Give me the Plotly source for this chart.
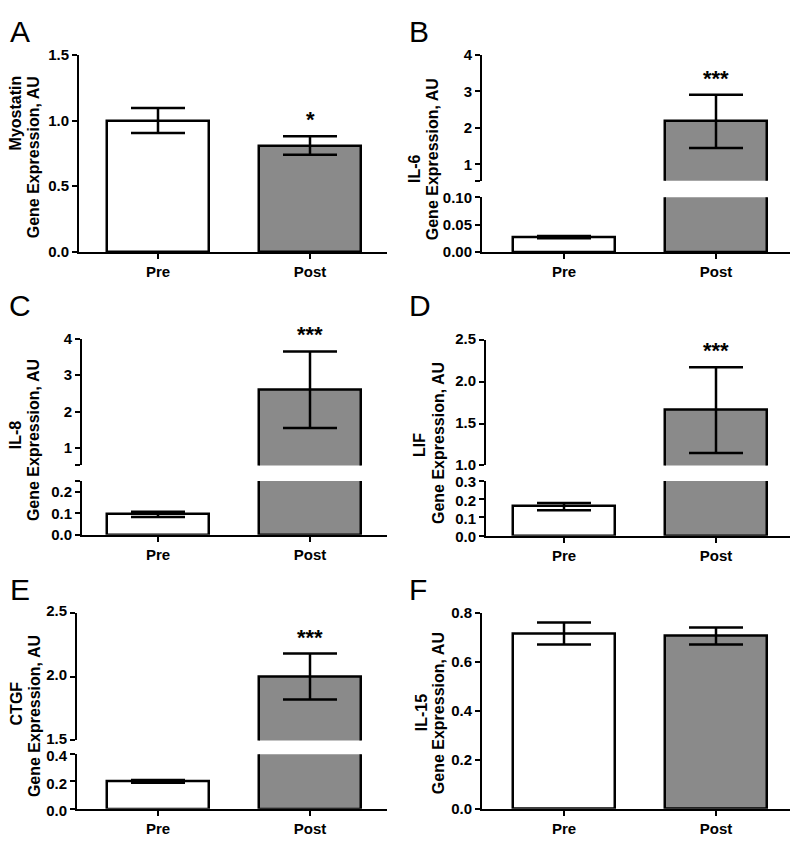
import plotly.graph_objects as go

# ---- data ----
GROUPS = ["Pre", "Post"]
GENES = ["Myostatin", "IL-6", "IL-8", "LIF", "CTGF", "IL-15"]
LETTERS = ["A", "B", "C", "D", "E", "F"]
STARS = ["*", "***", "***", "***", "***", ""]
UNIT_LABEL = "Gene Expression, AU"

MYOSTATIN_MEAN = [1.00, 0.81]
MYOSTATIN_SEM = [0.095, 0.07]
IL6_MEAN = [0.027, 2.18]
IL6_SEM = [0.002, 0.73]
IL8_MEAN = [0.095, 2.60]
IL8_SEM = [0.012, 1.05]
LIF_MEAN = [0.16, 1.66]
LIF_SEM = [0.02, 0.51]
CTGF_MEAN = [0.20, 2.00]
CTGF_SEM = [0.01, 0.18]
IL15_MEAN = [0.715, 0.705]
IL15_SEM = [0.045, 0.035]

# y-axis segments (broken axes): tick values, bottom segment first
MYOSTATIN_TICKS = [0, 0.5, 1.0, 1.5]
IL6_TICKS_LOW = [0, 0.05, 0.10]
IL6_TICKS_HIGH = [1, 2, 3, 4]
IL8_TICKS_LOW = [0, 0.1, 0.2]
IL8_TICKS_HIGH = [1, 2, 3, 4]
LIF_TICKS_LOW = [0, 0.1, 0.2, 0.3]
LIF_TICKS_HIGH = [1.0, 1.5, 2.0, 2.5]
CTGF_TICKS_LOW = [0, 0.2, 0.4]
CTGF_TICKS_HIGH = [1.5, 2.0, 2.5]
IL15_TICKS = [0, 0.2, 0.4, 0.6, 0.8]

W, H = 800, 849
FONT = "Liberation Sans, Arial, Helvetica, sans-serif"
POST_GRAY = "#8a8a8a"


def fx(p):
    return p / W


def fy(p):
    return 1 - p / H


# layout in page pixels: axis x span, centre of Pre bar,
# segments (top, bottom, range, ticks, fmt, label shift), letter pos, title line pos
PANELS = [
    dict(mean=MYOSTATIN_MEAN, sem=MYOSTATIN_SEM, x=(79, 387), c0=158,
         segs=[(45, 247, [0, 1.5], MYOSTATIN_TICKS, "{:.1f}", 0)],
         letter=(8, 21), title=((15, 105), (33, 150))),
    dict(mean=IL6_MEAN, sem=IL6_SEM, x=(482, 790), c0=564,
         segs=[(191, 247, [0, 0.10], IL6_TICKS_LOW, "{:.2f}", 0),
               (45, 174, [0.55, 4], IL6_TICKS_HIGH, "{:.0f}", 0)],
         letter=(407, 21), title=((415, 162), (432, 152))),
    dict(mean=IL8_MEAN, sem=IL8_SEM, x=(82, 387), c0=158,
         segs=[(482, 537, [0, 0.25], IL8_TICKS_LOW, "{:.1f}", 0),
               (336, 466, [0.52, 4], IL8_TICKS_HIGH, "{:.0f}", 0)],
         letter=(7, 302), title=((15, 435), (33, 440))),
    dict(mean=LIF_MEAN, sem=LIF_SEM, x=(486, 790), c0=564,
         segs=[(482, 538, [0, 0.3], LIF_TICKS_LOW, "{:.1f}", 1),
               (337, 466, [1.0, 2.5], LIF_TICKS_HIGH, "{:.1f}", -1)],
         letter=(407, 302), title=((420, 445), (438, 443))),
    dict(mean=CTGF_MEAN, sem=CTGF_SEM, x=(77, 387), c0=158,
         segs=[(762, 818, [0, 0.4], CTGF_TICKS_LOW, "{:.1f}", 2),
               (617, 748, [1.5, 2.5], CTGF_TICKS_HIGH, "{:.1f}", -2)],
         letter=(8, 593), title=((16, 710), (34, 723))),
    dict(mean=IL15_MEAN, sem=IL15_SEM, x=(482, 790), c0=564,
         segs=[(617, 818, [0, 0.8], IL15_TICKS, "{:.1f}", 0)],
         letter=(407, 593), title=((421, 720), (438, 720))),
]

SPACING = 152  # pixels between Pre and Post centres
TICKFONT = dict(family=FONT, size=15, color="black", weight="bold")


def _key(kind, n):
    return f"{kind}axis" if n == 1 else f"{kind}axis{n}"


def _ref(kind, n):
    return kind if n == 1 else f"{kind}{n}"


fig = go.Figure()
layout = {}
annotations = []
xn = yn = 0

for i, p in enumerate(PANELS):
    xn += 1
    x0, x1 = p["x"]
    lo = -(p["c0"] - x0) / SPACING
    hi = 1 + (x1 - (p["c0"] + SPACING)) / SPACING
    first_y = yn + 1
    layout[_key("x", xn)] = dict(
        domain=[fx(x0), fx(x1)], range=[lo, hi], anchor=_ref("y", first_y),
        type="category", showline=True, linewidth=2, linecolor="black",
        ticks="outside", ticklen=5, tickwidth=2, tickcolor="black",
        tickfont=TICKFONT, showgrid=False, zeroline=False, fixedrange=True,
    )
    top_ref = None
    for top, bot, rng, ticks, fmt, shift in p["segs"]:
        yn += 1
        tv = list(ticks)
        tt = [fmt.format(t) for t in ticks]
        for end in rng:
            if all(abs(end - t) > 1e-9 for t in tv):
                tv.append(end)
                tt.append("")
        layout[_key("y", yn)] = dict(
            domain=[fy(bot), fy(top)], range=rng, anchor=_ref("x", xn),
            tickvals=tv, ticktext=tt, showline=True, linewidth=2, linecolor="black",
            ticks="outside", ticklen=5, tickwidth=2, tickcolor="black",
            tickfont=TICKFONT, ticklabelshift=shift,
            showgrid=False, zeroline=False, fixedrange=True,
        )
        fig.add_trace(go.Bar(
            x=GROUPS, y=p["mean"], width=0.67,
            marker=dict(color=["white", POST_GRAY], line=dict(color="black", width=2.5)),
            error_y=dict(type="data", array=p["sem"], visible=True,
                         color="black", thickness=2.5, width=27),
            xaxis=_ref("x", xn), yaxis=_ref("y", yn), showlegend=False,
        ))
        top_ref = _ref("y", yn)

    if STARS[i]:
        annotations.append(dict(
            x=GROUPS[1], y=p["mean"][1] + p["sem"][1], xref=_ref("x", xn), yref=top_ref,
            text=STARS[i], showarrow=False, yanchor="bottom", yshift=2,
            font=dict(family=FONT, size=22, color="black", weight="bold"),
        ))
    lx, ly = p["letter"]
    annotations.append(dict(
        x=fx(lx), y=fy(ly), xref="paper", yref="paper", text=LETTERS[i],
        showarrow=False, xanchor="left", yanchor="middle",
        font=dict(family=FONT, size=30, color="black"),
    ))
    for text, (tx, ty) in zip([GENES[i], UNIT_LABEL], p["title"]):
        annotations.append(dict(
            x=fx(tx), y=fy(ty), xref="paper", yref="paper",
            text=text, textangle=-90,
            showarrow=False, xanchor="center", yanchor="middle",
            font=dict(family=FONT, size=16, color="black", weight="bold"),
        ))

fig.update_layout(
    **layout,
    annotations=annotations,
    width=W, height=H, autosize=False,
    margin=dict(l=0, r=0, t=0, b=0),
    paper_bgcolor="white", plot_bgcolor="rgba(0,0,0,0)",
    barmode="overlay", bargap=0,
    font=dict(family=FONT, color="black"),
)

# pin the graph to the window corner so the page is exactly the figure
PIN = (
    "document.body.style.margin='0';"
    "var gd=document.getElementById('{plot_id}');"
    "gd.style.position='fixed';gd.style.left='0px';gd.style.top='0px';"
)
fig.write_html("out.html", post_script=PIN, config={"displayModeBar": False})
